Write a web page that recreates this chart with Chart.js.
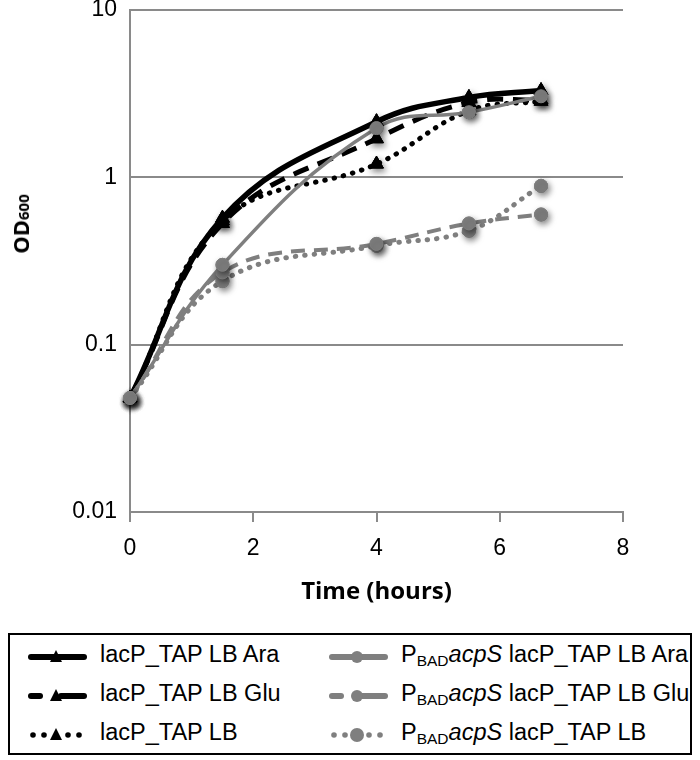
<!DOCTYPE html>
<html>
<head>
<meta charset="utf-8">
<script src="https://cdn.jsdelivr.net/npm/chart.js@4.4.1/dist/chart.umd.min.js"></script>
<style>
body { margin: 0; background: #fff; }
#wrap { position: relative; width: 700px; height: 760px; font-family: "Liberation Sans", Arial, sans-serif; }
#chart { position: absolute; left: 0; top: 0; }
#ytitle { position: absolute; left: 20px; top: 224px; transform: translate(-50%, -50%) rotate(-90deg);
  font-family: "Open Sans", sans-serif; font-weight: bold; font-size: 22px; white-space: nowrap; }
#ytitle span { font-size: 15px; }
#legend { position: absolute; left: 8px; top: 633px; width: 680px; height: 118px; border: 2px solid #000; }
.item { position: absolute; height: 30px; font-size: 23.5px; white-space: nowrap; color: #000; }
.item svg { position: absolute; left: 0; top: 5px; }
.item .txt { position: absolute; left: 72px; top: -1px; }
.item sub { font-size: 15.5px; vertical-align: -4px; }
</style>
</head>
<body>
<div id="wrap">
  <canvas id="chart" width="700" height="620"></canvas>
  <div id="ytitle">OD<span>600</span></div>
  <div id="legend"></div>
</div>
<script>
// time points (hours)
var times = [0, 1.5, 4, 5.5, 6.67];

// OD600 readings
var lacAra = [0.048, 0.57, 2.15, 3.0, 3.3];
var lacGlu = [0.048, 0.53, 1.7, 2.8, 2.9];
var lacLB  = [0.048, 0.55, 1.2, 2.5, 2.85];
var pbadAra = [0.048, 0.30, 1.97, 2.45, 3.05];
var pbadGlu = [0.048, 0.27, 0.40, 0.53, 0.60];
var pbadLB  = [0.048, 0.24, 0.39, 0.48, 0.89];

var seriesNames = ["lacP_TAP LB Ara", "lacP_TAP LB Glu", "lacP_TAP LB",
                   "lacP_TAP LB Ara", "lacP_TAP LB Glu", "lacP_TAP LB"];

var xTicks = [0, 2, 4, 6, 8];
var yTicks = [0.01, 0.1, 1, 10];
var yTickLabels = ["0.01", "0.1", "1", "10"];

var BLACK = "#000000";
var GRAY = "#7f7f7f";

function pts(arr) {
	return times.map(function(t, i) { return { x: t, y: arr[i] }; });
}

var styles = [
	{ data: lacAra, color: BLACK, kind: "solid", marker: "triangle" },
	{ data: lacGlu, color: BLACK, kind: "dash", marker: "triangle" },
	{ data: lacLB, color: BLACK, kind: "dot", marker: "triangle" },
	{ data: pbadAra, color: GRAY, kind: "solid", marker: "circle" },
	{ data: pbadGlu, color: GRAY, kind: "dash", marker: "circle" },
	{ data: pbadLB, color: GRAY, kind: "dot", marker: "circle" }
];

var datasets = styles.map(function(s, i) {
	var dash = [];
	var width = s.color == BLACK ? 5.5 : 3.5;
	if (s.kind == "dash") { dash = s.color == BLACK ? [16, 10] : [14, 9]; width = s.color == BLACK ? 5 : 4; }
	if (s.kind == "dot") { dash = [0.5, 9]; width = 5; }
	return {
		label: seriesNames[i],
		data: pts(s.data),
		borderColor: s.color,
		backgroundColor: s.color,
		borderWidth: width,
		borderDash: dash,
		borderCapStyle: s.kind == "dot" ? "round" : "butt",
		pointStyle: s.marker,
		pointRadius: s.marker == "triangle" ? 8 : 6.5,
		pointBorderWidth: 1,
		tension: 0.4,
		order: s.color == BLACK ? 1 : 0
	};
});

// soft drop shadow under markers, like the original figure
var markerShadow = {
	id: "markerShadow",
	afterDatasetsDraw: function(chart) {
		var ctx = chart.ctx;
		ctx.save();
		ctx.shadowColor = "rgba(0,0,0,0.5)";
		ctx.shadowBlur = 6;
		ctx.shadowOffsetX = 2;
		ctx.shadowOffsetY = 3;
		chart.getSortedVisibleDatasetMetas().slice().reverse().forEach(function(meta) {
			meta.data.forEach(function(p) { p.draw(ctx, chart.chartArea); });
		});
		ctx.restore();
	}
};

var ctx = document.getElementById("chart");
var chart = new Chart(ctx, {
	type: "line",
	data: { datasets: datasets },
	plugins: [markerShadow],
	options: {
		responsive: false,
		animation: false,
		layout: { padding: { left: 0, right: 77, top: 10, bottom: 0 } },
		plugins: { legend: { display: false }, tooltip: { enabled: false } },
		scales: {
			x: {
				type: "linear",
				min: 0, max: 8,
				afterBuildTicks: function(axis) { axis.ticks = xTicks.map(function(v) { return { value: v }; }); },
				afterFit: function(scale) { scale.height = 108; },
				grid: { display: true, drawOnChartArea: false, drawTicks: true, tickLength: 10, color: "#8a8a8a", lineWidth: 2 },
				border: { color: "#8a8a8a", width: 2 },
				ticks: { padding: 13, color: "#000", font: { family: "Liberation Sans", size: 23 } },
				title: { display: true, text: "Time (hours)", color: "#000", padding: { top: 0, bottom: 13 },
					font: { family: "Open Sans", weight: "bold", size: 24 } }
			},
			y: {
				type: "logarithmic",
				min: 0.01, max: 10,
				afterBuildTicks: function(axis) { axis.ticks = yTicks.map(function(v) { return { value: v }; }); },
				afterFit: function(scale) {
					scale.width = 130;
					scale.paddingTop = 0;
					scale.paddingBottom = 0;
				},
				grid: { color: "#8a8a8a", lineWidth: 2, drawTicks: false },
				border: { color: "#8a8a8a", width: 2 },
				ticks: {
					padding: 13, color: "#000", font: { family: "Liberation Sans", size: 23 },
					callback: function(v) { var k = yTicks.indexOf(v); return k >= 0 ? yTickLabels[k] : ""; }
				}
			}
		}
	}
});

// legend (html, so the subscript and italics stay real text)
function sample(s) {
	var svg = '<svg width="60" height="20" xmlns="http://www.w3.org/2000/svg">';
	var c = s.color, y = 10;
	if (s.kind == "solid") {
		svg += '<line x1="3" y1="' + y + '" x2="56" y2="' + y + '" stroke="' + c + '" stroke-width="6" stroke-linecap="round"/>';
	} else if (s.kind == "dash") {
		svg += '<line x1="3" y1="' + y + '" x2="12" y2="' + y + '" stroke="' + c + '" stroke-width="6" stroke-linecap="round"/>';
		svg += '<line x1="33" y1="' + y + '" x2="56" y2="' + y + '" stroke="' + c + '" stroke-width="6" stroke-linecap="round"/>';
	} else {
		[5, 16, 40, 51].forEach(function(x) {
			svg += '<circle cx="' + x + '" cy="' + y + '" r="2.8" fill="' + c + '"/>';
		});
	}
	var mx = 28;
	if (s.marker == "triangle") {
		svg += '<polygon points="' + (mx - 6) + ',' + (y + 5) + ' ' + (mx + 6) + ',' + (y + 5) + ' ' + mx + ',' + (y - 7) + '" fill="' + c + '"/>';
	} else {
		svg += '<circle cx="' + mx + '" cy="' + y + '" r="' + (s.kind == "dot" ? 7 : 6) + '" fill="' + c + '"/>';
	}
	return svg + '</svg>';
}

var legend = document.getElementById("legend");
var rowTop = [7, 46, 85];
styles.forEach(function(s, i) {
	var col = i < 3 ? 0 : 1;
	var row = i % 3;
	var div = document.createElement("div");
	div.className = "item";
	div.style.left = (col == 0 ? 18 : 319) + "px";
	div.style.top = rowTop[row] + "px";
	var name = seriesNames[i];
	if (col == 1) name = 'P<sub>BAD</sub><i>acpS</i> ' + name;
	div.innerHTML = sample(s) + '<span class="txt">' + name + '</span>';
	legend.appendChild(div);
});
</script>
</body>
</html>
